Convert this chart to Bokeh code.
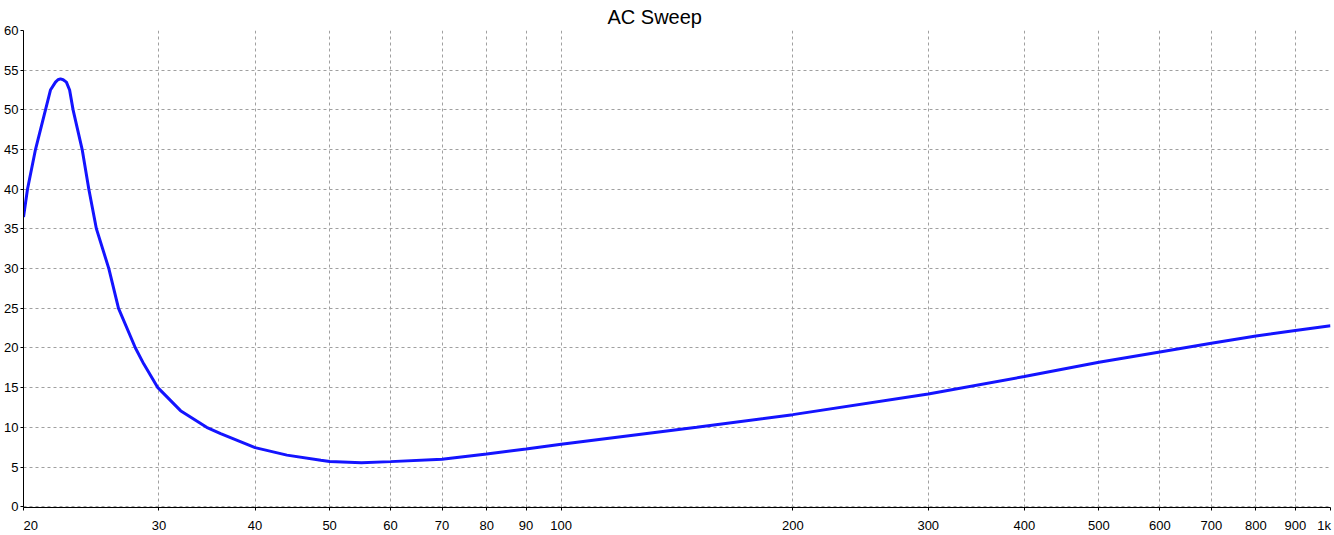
from bokeh.plotting import figure
from bokeh.models import Range1d, FixedTicker, BasicTickFormatter
from bokeh.embed import file_html
from bokeh.resources import INLINE

# Data (frequency in Hz, magnitude)
freq = [20.0, 20.24, 20.73, 21.36, 21.68, 22.01, 22.17, 22.34, 22.52, 22.74, 22.96, 23.2, 23.84,
        24.32, 24.88, 25.82, 26.58, 27.96, 28.66, 29.9, 32.0, 34.6, 36.08, 40.0,
        44.0, 48.7, 50.0, 55.0, 60.0, 70.0, 80.0, 90.0, 100.0, 150.0, 200.0,
        300.0, 400.0, 500.0, 600.0, 700.0, 800.0, 900.0, 1000.0]
mag = [36.5, 40.0, 45.0, 50.0, 52.5, 53.5, 53.8, 53.9, 53.8, 53.5, 52.5, 50.0, 45.0,
       40.0, 35.0, 30.0, 25.0, 20.0, 18.0, 15.0, 12.1, 10.0, 9.2, 7.44,
       6.5, 5.85, 5.7, 5.55, 5.68, 5.97, 6.64, 7.27, 7.86, 10.0, 11.6,
       14.2, 16.4, 18.2, 19.5, 20.6, 21.5, 22.2, 22.8]

x_ticks = [20, 30, 40, 50, 60, 70, 80, 90, 100, 200, 300, 400, 500, 600, 700, 800, 900, 1000]
x_labels = {20: "20", 1000: "1k"}
y_ticks = list(range(0, 61, 5))

FONT = "Liberation Sans"
NB = "\u00a0"

p = figure(width=1334, height=535, x_axis_type="log", output_backend="svg",
           toolbar_location=None, title="AC Sweep",
           x_range=Range1d(20, 1000), y_range=Range1d(-0.1, 60),
           min_border_left=23, min_border_right=4, min_border_top=30, min_border_bottom=28)

p.title.text_font = FONT
p.title.text_font_size = "20px"
p.title.text_font_style = "normal"
p.title.text_color = "black"
p.title.align = "left"
p.title.offset = 584
p.title.standoff = 6

p.line(x=freq, y=mag, line_color="#1414ff", line_width=3)

p.xaxis.ticker = FixedTicker(ticks=x_ticks)
p.xaxis.formatter = BasicTickFormatter()
# first label sits right of its tick, last label left of it (as in the reference)
p.xaxis.major_label_overrides = {x_ticks[0]: NB * 4 + x_labels[20],
                                 x_ticks[-1]: x_labels[1000] + NB}
p.yaxis.ticker = FixedTicker(ticks=y_ticks)

for ax in (p.xaxis[0], p.yaxis[0]):
    ax.major_label_text_font = FONT
    ax.major_label_text_font_size = "13px"
    ax.major_label_text_color = "black"
    ax.axis_line_color = "black"
    ax.major_tick_line_color = "black"
    ax.major_tick_out = 3
    ax.major_tick_in = 0
    ax.minor_tick_out = 0
    ax.minor_tick_in = 0
    ax.major_label_standoff = 2
p.xaxis.major_label_standoff = 7

p.grid.grid_line_color = "#a0a0a0"
p.grid.grid_line_dash = "3 3"
p.grid.grid_line_width = 1
p.outline_line_color = None
p.background_fill_color = "white"
p.border_fill_color = "white"

open("out.html", "w").write(file_html(p, INLINE))
